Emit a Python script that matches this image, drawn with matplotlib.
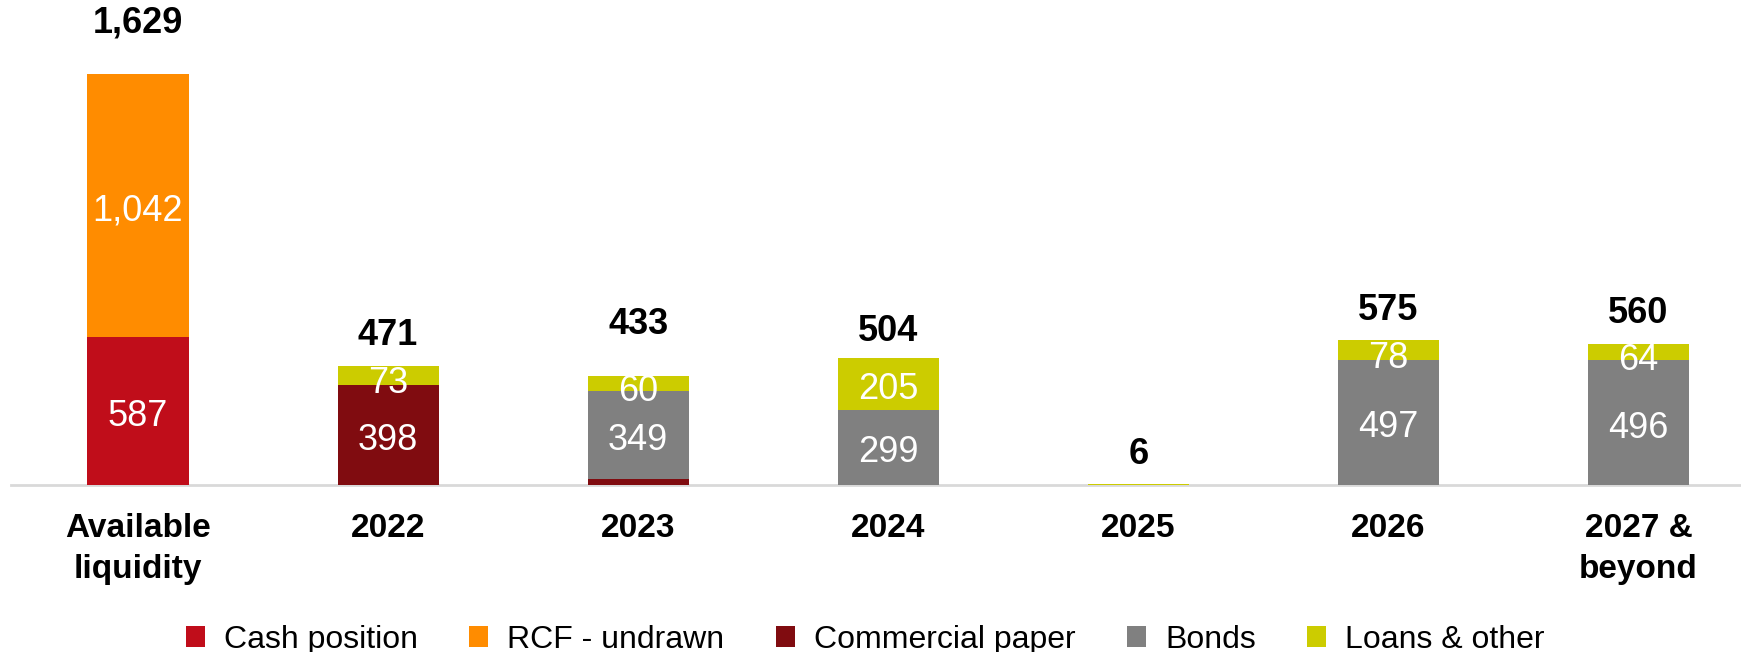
import matplotlib
matplotlib.use("Agg")
import numpy as np
import matplotlib.pyplot as plt
from matplotlib.patches import Patch

plt.rcParams['font.family'] = ['Liberation Sans', 'DejaVu Sans']

# categories on the x axis
categories = ["Available\nliquidity", "2022", "2023", "2024", "2025", "2026", "2027 &\nbeyond"]

# stacked series (bottom to top)
series_names = ["Cash position", "RCF - undrawn", "Commercial paper", "Bonds", "Loans & other"]
cash_position = [587, 0, 0, 0, 0, 0, 0]
rcf_undrawn = [1042, 0, 0, 0, 0, 0, 0]
commercial_paper = [0, 398, 24, 0, 0, 0, 0]
bonds = [0, 0, 349, 299, 0, 497, 496]
loans_other = [0, 73, 60, 205, 6, 78, 64]
totals = [1629, 471, 433, 504, 6, 575, 560]

colors = ["#C00D1A", "#FF8C00", "#800C10", "#808080", "#CCCC00"]

fig = plt.figure(figsize=(17.41, 6.52), dpi=100)
ax = fig.add_axes([0.0063, 0.256, 0.9937, 0.744])

x = np.arange(len(categories))
width = 0.404
bottom = np.zeros(len(categories))
all_series = [cash_position, rcf_undrawn, commercial_paper, bonds, loans_other]
for name, vals, col in zip(series_names, all_series, colors):
    vals = np.array(vals, dtype=float)
    ax.bar(x, vals, width, bottom=bottom, color=col, label=name, zorder=3)
    # segment labels (only for segments big enough)
    for xi, v, b in zip(x, vals, bottom):
        if v >= 50:
            ax.annotate(f"{int(v):,}", (xi, b + v / 2), xytext=(0, -4 if v > 100 else -6),
                        textcoords="offset points", ha="center", va="center",
                        color="white", fontsize=26, zorder=4)
    bottom += vals

# totals above bars (label centre offset from bar top, in points)
total_offsets = [37, 22, 37, 19, 21, 21, 22]
for xi, t, off in zip(x, totals, total_offsets):
    ax.annotate(f"{t:,}", (xi, t), xytext=(0, off), textcoords="offset points",
                ha="center", va="center", fontsize=26, fontweight="bold")

ax.set_xlim(-0.508, 6.41)
ax.set_ylim(0, 1924)
ax.set_xticks(x)
ax.set_xticklabels(categories, fontsize=24, fontweight="bold", linespacing=1.42)
ax.tick_params(axis="x", length=0, pad=20)
ax.set_yticks([])
for s in ["top", "right", "left"]:
    ax.spines[s].set_visible(False)
ax.spines["bottom"].set_color("#D9D9D9")
ax.spines["bottom"].set_linewidth(2)

handles = [Patch(facecolor=c, label=n) for n, c in zip(series_names, colors)]
fig.legend(handles=handles, loc="center", bbox_to_anchor=(0.497, 0.019), ncol=5,
           frameon=False, fontsize=23, handlelength=0.6, handleheight=0.65,
           handletextpad=0.6, columnspacing=1.6)

fig.savefig("out.png", dpi=100)
